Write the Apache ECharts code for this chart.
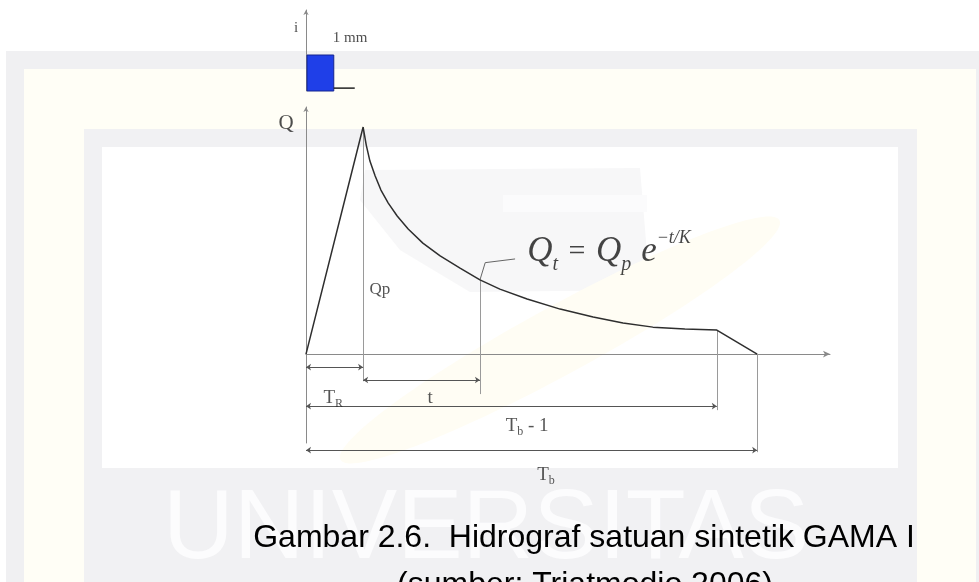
<!DOCTYPE html>
<html>
<head>
<meta charset="utf-8">
<script src="https://cdn.jsdelivr.net/npm/echarts@6/dist/echarts.min.js"></script>
<style>
  html, body { margin: 0; padding: 0; background: #fff; }
  #chart { width: 979px; height: 582px; }
</style>
</head>
<body>
<div id="chart"></div>
<script>
// Synthetic unit hydrograph (GAMA I): time on x, discharge Q on y (arbitrary units)
const curveTime = [0, 1.09, 1.15, 1.22, 1.32, 1.43, 1.57, 1.74, 1.95, 2.23, 2.56, 2.94,
                   3.32, 3.70, 4.22, 4.85, 5.48, 6.05, 6.62, 7.23, 7.84, 8.61];
const curveFlow = [0, 9.19, 8.46, 7.81, 7.21, 6.64, 6.11, 5.59, 5.06, 4.49, 3.97, 3.48,
                   3.00, 2.63, 2.23, 1.82, 1.50, 1.26, 1.09, 1.01, 0.97, 0];
// Effective rainfall block (depth in mm) and its duration
const rainDepth = [1];
const rainDuration = [0.53];
const rainTailEnd = [0.93];
// Point on the recession limb that carries the Q_t annotation
const sampleIndex = 12;

const peakIdx = curveFlow.indexOf(Math.max(...curveFlow));
const TR = curveTime[peakIdx], Qp = curveFlow[peakIdx];
const tS = curveTime[sampleIndex], qS = curveFlow[sampleIndex];
const nLast = curveTime.length - 1;
const Tb = curveTime[nLast];
const Tb1 = curveTime[nLast - 1], Qb1 = curveFlow[nLast - 1];

// vertical levels (below the time axis) for the dimension rows
const row = { tr: -0.53, t: -1.05, tb1: -2.11, tb: -3.89 };

const ink = '#2a2a2a';
const serif = 'Liberation Serif';

const dimLines = [
  [[0, row.tr], [TR, row.tr]],
  [[TR, row.t], [tS, row.t]],
  [[0, row.tb1], [Tb1, row.tb1]],
  [[0, row.tb], [Tb, row.tb]]
];
const extLines = [
  [[TR, Qp], [TR, -1.1]],
  [[tS, qS], [tS, -1.62]],
  [[Tb1, Qb1], [Tb1, -2.27]],
  [[Tb, 0], [Tb, -3.97]]
];

const richText = {
  T: { fontFamily: serif, fontSize: 19, color: ink, lineHeight: 24 },
  sub: { fontFamily: serif, fontSize: 12, color: ink, lineHeight: 12, verticalAlign: 'bottom' },
  n: { fontFamily: serif, fontSize: 19, color: ink, lineHeight: 24 },
  Q: { fontFamily: serif, fontStyle: 'italic', fontSize: 35, color: '#151515', lineHeight: 46 },
  qs: { fontFamily: serif, fontStyle: 'italic', fontSize: 20, color: '#151515', lineHeight: 20, verticalAlign: 'bottom' },
  eq: { fontFamily: serif, fontSize: 30, color: '#151515', lineHeight: 46, padding: [0, 3, 0, 3] },
  e: { fontFamily: serif, fontStyle: 'italic', fontSize: 35, color: '#151515', lineHeight: 46, padding: [0, 0, 0, 10] },
  sup: { fontFamily: serif, fontStyle: 'italic', fontSize: 18, color: '#151515', lineHeight: 18, verticalAlign: 'top' },
  plain: { fontFamily: serif, fontSize: 17, color: ink },
  axisName: { fontFamily: serif, fontSize: 21, color: '#222' }
};

const textMarks = [
  { value: [-0.38, 9.35], text: '{axisName|Q}' },
  { value: [TR + 0.32, 2.63], text: '{plain|Qp}' },
  { value: [0.52, -1.78], text: '{T|T}{sub|R}' },
  { value: [2.37, -1.78], text: '{n|t}' },
  { value: [4.22, -2.92], text: '{T|T}{sub|b}{n| - 1}' },
  { value: [4.58, -4.9], text: '{T|T}{sub|b}' }
];

const chart = echarts.init(document.getElementById('chart'), null, { renderer: 'canvas' });

const hiddenAxisParts = {
  axisTick: { show: false }, axisLabel: { show: false }, splitLine: { show: false }
};

chart.setOption({
  backgroundColor: '#ffffff',
  animation: false,
  grid: [
    { left: 306, top: 107, width: 524, height: 336 },
    { left: 306, top: 10, width: 524, height: 81 }
  ],
  xAxis: [
    Object.assign({
      type: 'value', gridIndex: 0, min: 0, max: 10,
      axisLine: { show: true, onZero: true, symbol: ['none', 'arrow'], symbolSize: [5, 7],
        lineStyle: { color: '#8a8a8a', width: 1 } }
    }, hiddenAxisParts),
    Object.assign({
      type: 'value', gridIndex: 1, min: 0, max: 10, axisLine: { show: false }
    }, hiddenAxisParts)
  ],
  yAxis: [
    Object.assign({
      type: 'value', gridIndex: 0, min: -3.6, max: 10,
      axisLine: { show: true, onZero: false, symbol: ['none', 'arrow'], symbolSize: [4, 5],
        lineStyle: { color: '#8a8a8a', width: 1 } }
    }, hiddenAxisParts),
    Object.assign({
      type: 'value', gridIndex: 1, min: 0, max: 2.25,
      axisLine: { show: true, onZero: false, symbol: ['none', 'arrow'], symbolSize: [4, 5],
        lineStyle: { color: '#8a8a8a', width: 1 } }
    }, hiddenAxisParts)
  ],
  graphic: [
    // faint institutional watermark behind the figure
    { type: 'rect', z: -10, shape: { x: 6, y: 51, width: 990, height: 540 }, style: { fill: '#f0f0f2' } },
    { type: 'rect', z: -10, shape: { x: 24, y: 69, width: 952, height: 520 }, style: { fill: '#fffef6' } },
    { type: 'rect', z: -10, shape: { x: 84, y: 129, width: 833, height: 460 }, style: { fill: '#f1f1f3' } },
    { type: 'rect', z: -10, shape: { x: 102, y: 147, width: 796, height: 321 }, style: { fill: '#ffffff' } },
    { type: 'polygon', z: -9, shape: { points: [[365, 170], [640, 168], [650, 290], [470, 292], [400, 250], [360, 200]] },
      style: { fill: '#f7f7f8' } },
    { type: 'rect', z: -9, shape: { x: 503, y: 195, width: 144, height: 17 }, style: { fill: '#fbfbfc' } },
    { type: 'ellipse', z: -9, rotation: 0.5, originX: 560, originY: 340,
      shape: { cx: 560, cy: 340, rx: 250, ry: 34 }, style: { fill: '#fffdf4' } },
    { type: 'text', z: -8, style: { text: 'UNIVERSITAS', x: 163, y: 531, fill: '#fcfcfd',
      font: '98px "Liberation Sans"', verticalAlign: 'middle', align: 'left' } },
    // figure caption
    { type: 'text', style: { text: 'Gambar 2.6.  Hidrograf satuan sintetik GAMA I', x: 584, y: 538,
      fill: '#000', font: '32px "Liberation Sans"', align: 'center', verticalAlign: 'middle' } },
    { type: 'text', style: { text: '(sumber: Triatmodjo 2006)', x: 585, y: 585,
      fill: '#000', font: '32px "Liberation Sans"', align: 'center', verticalAlign: 'middle' } }
  ],
  series: [
    {
      name: 'hydrograph', type: 'line', xAxisIndex: 0, yAxisIndex: 0,
      data: curveTime.map((t, i) => [t, curveFlow[i]]),
      symbol: 'none', smooth: false, clip: false,
      lineStyle: { color: '#2e2e2e', width: 1.5 }
    },
    {
      name: 'extension', type: 'lines', coordinateSystem: 'cartesian2d', xAxisIndex: 0, yAxisIndex: 0,
      clip: false, symbol: 'none',
      lineStyle: { color: '#9a9a9a', width: 1, opacity: 1, curveness: 0 },
      data: extLines.map(c => ({ coords: c }))
    },
    {
      name: 'dimension', type: 'lines', coordinateSystem: 'cartesian2d', xAxisIndex: 0, yAxisIndex: 0,
      clip: false, symbol: ['arrow', 'arrow'], symbolSize: 5,
      lineStyle: { color: '#555', width: 1, opacity: 1, curveness: 0 },
      data: dimLines.map(c => ({ coords: c }))
    },
    {
      name: 'callout', type: 'lines', coordinateSystem: 'cartesian2d', xAxisIndex: 0, yAxisIndex: 0,
      polyline: true, clip: false, symbol: ['none', 'arrow'], symbolSize: 5,
      lineStyle: { color: '#666', width: 1, opacity: 1 },
      data: [{ coords: [[tS, qS], [tS + 0.1, qS + 0.7], [tS + 0.67, qS + 0.85]] }]
    },
    {
      name: 'formula', type: 'scatter', xAxisIndex: 0, yAxisIndex: 0, clip: false,
      symbolSize: 0, silent: true,
      data: [[tS + 0.9, qS + 1.13]],
      label: { show: true, position: 'right', distance: 0,
        formatter: '{Q|Q}{qs|t}{eq| = }{Q|Q}{qs|p}{e|e}{sup|\u2212t/K}', rich: richText }
    },
    {
      name: 'labels', type: 'scatter', xAxisIndex: 0, yAxisIndex: 0, clip: false,
      symbolSize: 0, silent: true,
      data: textMarks.map(m => ({ value: m.value, label: { formatter: m.text } })),
      label: { show: true, position: 'inside', rich: richText }
    },
    {
      name: 'rainfall', type: 'custom', xAxisIndex: 1, yAxisIndex: 1, clip: false,
      data: [[rainDuration[0], rainDepth[0]]],
      renderItem: function (params, api) {
        const p0 = api.coord([0, api.value(1)]);
        const p1 = api.coord([api.value(0), 0]);
        return {
          type: 'rect',
          shape: { x: p0[0] + 1, y: p0[1], width: p1[0] - p0[0] - 1, height: p1[1] - p0[1] },
          style: { fill: '#1f3fe8', stroke: '#15248f', lineWidth: 1 }
        };
      }
    },
    {
      name: 'rain tail', type: 'line', xAxisIndex: 1, yAxisIndex: 1, clip: false,
      data: [[rainDuration[0], 0.08], [rainTailEnd[0], 0.08]],
      symbol: 'none', lineStyle: { color: '#222', width: 1.5 }
    },
    {
      name: 'rain labels', type: 'scatter', xAxisIndex: 1, yAxisIndex: 1, clip: false,
      symbolSize: 0, silent: true,
      data: [
        { value: [-0.19, 1.75], label: { formatter: '{t|i}' } },
        { value: [0.84, 1.47], label: { formatter: '{t|' + rainDepth[0] + ' mm}' } }
      ],
      label: { show: true, position: 'inside',
        rich: { t: { fontFamily: serif, fontSize: 15, color: '#222' } } }
    }
  ]
});
</script>
</body>
</html>
